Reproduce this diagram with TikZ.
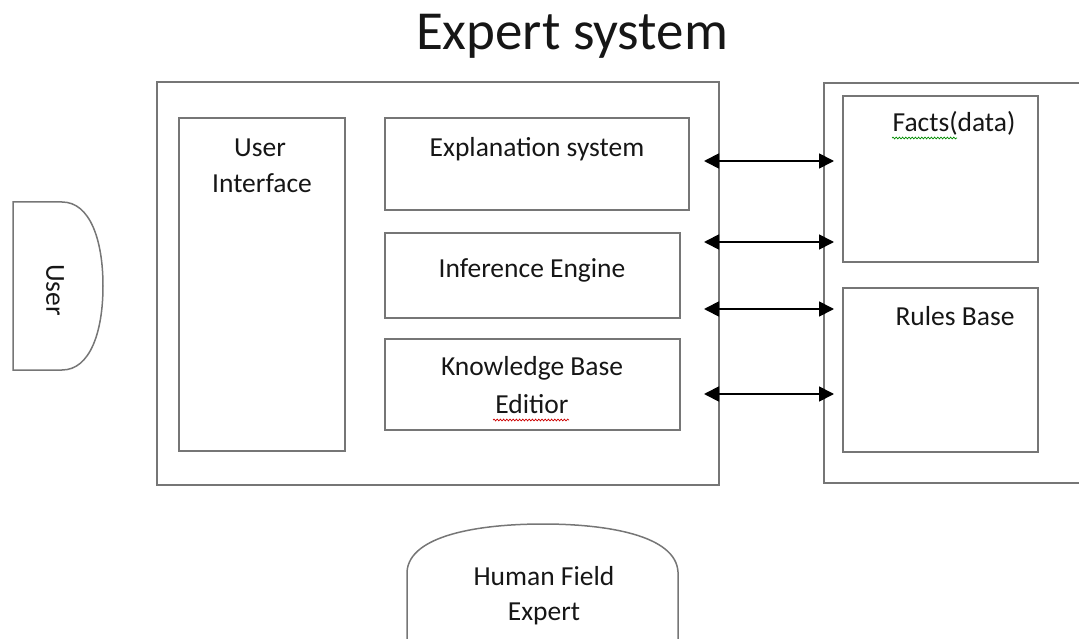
\documentclass[tikz,border=0pt]{standalone}
\usepackage{fontspec}
\setmainfont{Carlito}
\usetikzlibrary{arrows.meta,decorations.pathmorphing}
\definecolor{edge}{RGB}{118,118,118}
\definecolor{ink}{RGB}{22,22,22}
\tikzset{
  box/.style={draw=edge, line width=1.5pt, fill=none, inner sep=0pt},
  lbl/.style={text=ink, font=\fontsize{27.5}{36}\selectfont, anchor=base, inner sep=0pt},
  biarrow/.style={draw=black, line width=1.8pt, {Triangle[length=15pt,width=15pt]}-{Triangle[length=15pt,width=15pt]}},
  squig/.style={line width=0.7pt, decorate, decoration={snake, amplitude=0.9pt, segment length=3.2pt}}
}
\begin{document}
\begin{tikzpicture}[x=1pt,y=-1pt]
\useasboundingbox (0,0) rectangle (1079,639);
% title
\node[text=ink, font=\fontsize{55}{62}\selectfont, anchor=base, inner sep=0pt] (title) at (572,50) {Expert system};
% main box
\draw[box] (157,82) rectangle (719,485);
% user interface
\draw[box] (179,118) rectangle (345,451);
\node[lbl] (uit1) at (260,157) {User};
\node[lbl] (uit2) at (262,193) {Interface};
% explanation
\draw[box] (385,118) rectangle (689,210);
\node[lbl] (expl) at (537,157) {Explanation system};
\draw[box] (385,233) rectangle (680,318);
\node[lbl] (inf) at (532,277) {Inference Engine};
\draw[box] (385,339) rectangle (680,430);
\node[lbl] (kb1) at (532,375) {Knowledge Base};
\node[lbl] (kb2) at (532,413) {Editior};
\draw[squig, red!80!black] (493,420) -- (569,420);
% right side
\draw[box] (1090,83) -- (824,83) -- (824,483) -- (1090,483);
\draw[box] (843,96) rectangle (1038,262);
\node[lbl] (facts) at (954,132) {Facts(data)};
\draw[squig, green!55!black] (892,138) -- (957,138);
\draw[box] (843,288) rectangle (1038,452);
\node[lbl] (rules) at (955,325) {Rules Base};
% arrows
\coordinate (a1l) at (704,161); \coordinate (a1r) at (834,161);
\coordinate (a2l) at (704,242); \coordinate (a2r) at (834,242);
\coordinate (a3l) at (704,309); \coordinate (a3r) at (834,309);
\coordinate (a4l) at (704,394); \coordinate (a4r) at (834,394);
\draw[biarrow] (a1l) -- (a1r);
\draw[biarrow] (a2l) -- (a2r);
\draw[biarrow] (a3l) -- (a3r);
\draw[biarrow] (a4l) -- (a4r);
% user
\draw[box] (13,202) -- (62,202) .. controls (90,202) and (103,240) .. (103,286) .. controls (103,332) and (90,370) .. (62,370) -- (13,370) -- cycle;
\node[text=ink, font=\fontsize{27.5}{36}\selectfont, inner sep=0pt, rotate=-90] (user) at (55,290) {User};
% human field expert
\draw[box] (407,650) -- (407,572) .. controls (409,535) and (480,524) .. (543,524) .. controls (606,524) and (676,535) .. (678,572) -- (678,650);
\node[lbl] (hfe1) at (544,585) {Human Field};
\node[lbl] (hfe2) at (544,620) {Expert};
\end{tikzpicture}
\end{document}
